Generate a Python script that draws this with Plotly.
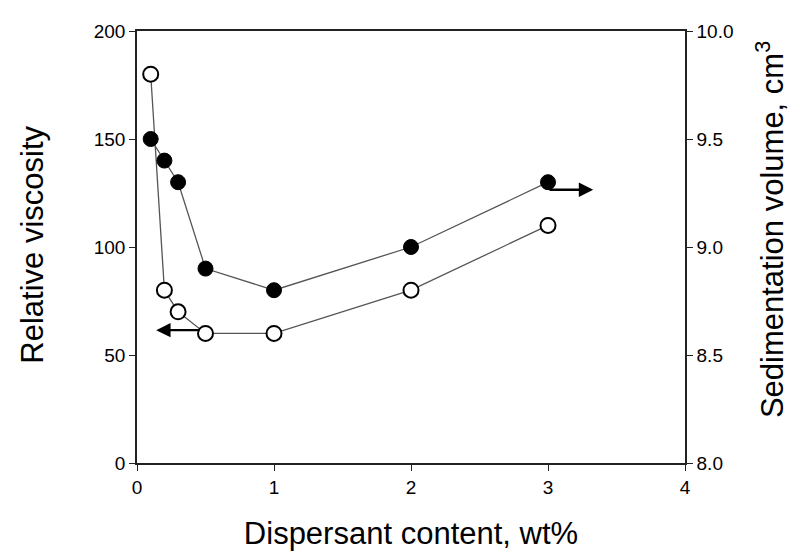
import plotly.graph_objects as go

# Data
dispersant = [0.1, 0.2, 0.3, 0.5, 1, 2, 3]
viscosity = [180, 80, 70, 60, 60, 80, 110]
sed_volume = [9.5, 9.4, 9.3, 8.9, 8.8, 9.0, 9.3]

x_ticks = [0, 1, 2, 3, 4]
y_ticks = [0, 50, 100, 150, 200]
y2_ticks = [8.0, 8.5, 9.0, 9.5, 10.0]
y2_labels = ["8.0", "8.5", "9.0", "9.5", "10.0"]

FONT = "Liberation Sans, Arial, Helvetica, sans-serif"
AX = "#222"

fig = go.Figure()

fig.add_trace(go.Scatter(
    x=dispersant, y=sed_volume, yaxis="y2", mode="lines+markers",
    line=dict(color="#555", width=1.3),
    marker=dict(symbol="circle", size=15, color="black", line=dict(color="black", width=1)),
    showlegend=False,
))
fig.add_trace(go.Scatter(
    x=dispersant, y=viscosity, mode="lines+markers",
    line=dict(color="#555", width=1.3),
    marker=dict(symbol="circle", size=15, color="white", line=dict(color="black", width=2)),
    showlegend=False,
))

# Arrows indicating which axis each series belongs to
fig.add_annotation(x=0.14, y=61.5, ax=0.47, ay=61.5, xref="x", yref="y", axref="x", ayref="y",
                   text="", showarrow=True, arrowhead=2, arrowsize=1.2, arrowwidth=2.4, arrowcolor="black")
fig.add_annotation(x=3.33, y=9.265, ax=3.0, ay=9.265, xref="x", yref="y2", axref="x", ayref="y2",
                   text="", showarrow=True, arrowhead=2, arrowsize=1.2, arrowwidth=2.4, arrowcolor="black")

# Y-axis titles
fig.add_annotation(x=-0.19, y=0.505, xref="paper", yref="paper", xanchor="center", yanchor="middle",
                   text="Relative viscosity", textangle=-90, showarrow=False,
                   font=dict(size=31, family=FONT, color="black"))
fig.add_annotation(x=1.154, y=0.54, xref="paper", yref="paper", xanchor="center", yanchor="middle",
                   text="Sedimentation volume, cm<sup>3</sup>", textangle=-90, showarrow=False,
                   font=dict(size=31, family=FONT, color="black"))

fig.update_layout(
    width=796, height=557,
    margin=dict(l=129, r=119, t=23, b=102),
    paper_bgcolor="white", plot_bgcolor="white",
    font=dict(family=FONT, size=19, color="black"),
    xaxis=dict(
        range=[0, 4], tickvals=x_ticks, ticks="outside", ticklen=6, tickwidth=1.3, tickcolor=AX,
        showline=True, linecolor=AX, linewidth=1.5, mirror=True, showgrid=False, zeroline=False,
        title=dict(text="Dispersant content, wt%", font=dict(size=31), standoff=26),
    ),
    yaxis=dict(
        range=[0, 200], tickvals=y_ticks, ticks="outside", ticklen=6, tickwidth=1.3, tickcolor=AX,
        showline=True, linecolor=AX, linewidth=1.5, showgrid=False, zeroline=False,
    ),
    yaxis2=dict(
        range=[8, 10], tickvals=y2_ticks, ticktext=y2_labels, overlaying="y", side="right",
        ticks="outside", ticklen=6, tickwidth=1.3, tickcolor=AX,
        showline=True, linecolor=AX, linewidth=1.5, showgrid=False, zeroline=False,
    ),
)

fig.write_html("out.html")
